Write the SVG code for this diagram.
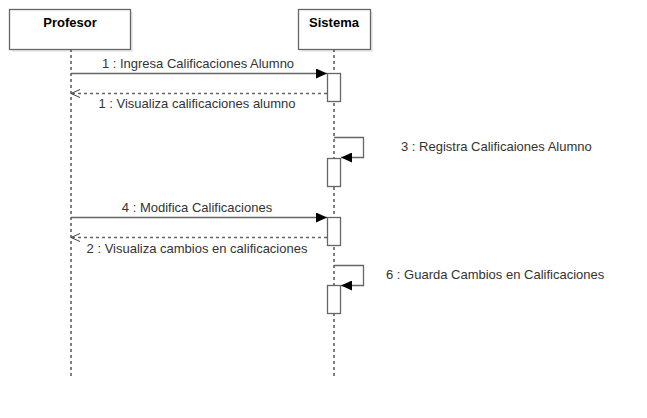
<svg xmlns="http://www.w3.org/2000/svg" width="647" height="418" viewBox="0 0 647 418">
<defs>
<marker id="filled" markerWidth="12" markerHeight="10" refX="11" refY="5" orient="auto" markerUnits="userSpaceOnUse">
<path d="M0,0 L11,5 L0,10 Z" fill="#000"/>
</marker>
<marker id="open" markerWidth="12" markerHeight="10" refX="10" refY="5" orient="auto" markerUnits="userSpaceOnUse">
<path d="M1,1 L10,5 L1,9" fill="none" stroke="#444" stroke-width="1"/>
</marker>
</defs>
<style>
.shadow{fill:#ececec;}
.head{fill:#fff;stroke:#666;stroke-width:1.3;}
.title{font-family:"Liberation Sans",Arial,sans-serif;font-size:13px;font-weight:bold;fill:#000;text-anchor:middle;}
.life{stroke:#000;stroke-width:1;stroke-dasharray:3,3;fill:none;}
.act{fill:#fff;stroke:#666;stroke-width:1.3;}
.msg{stroke:#666;stroke-width:1.3;fill:none;}
.ret{stroke:#666;stroke-width:1.3;stroke-dasharray:3,3;fill:none;}
.lbl{font-family:"Liberation Sans",Arial,sans-serif;font-size:13px;fill:#333;}
</style>
<rect width="647" height="418" fill="#fff"/>
<g id="profesor">
<rect class="shadow" x="12" y="12" width="121" height="40"/>
<line class="life" x1="71" y1="49" x2="71" y2="378"/>
<rect class="head" x="9.5" y="9.5" width="121" height="40"/>
<text class="title" x="70" y="27">Profesor</text>
</g>
<g id="sistema">
<rect class="shadow" x="301" y="12" width="72" height="40"/>
<line class="life" x1="334" y1="49" x2="334" y2="378"/>
<rect class="head" x="298.5" y="9.5" width="72" height="40"/>
<text class="title" x="334" y="27">Sistema</text>
</g>
<g id="connectors">
<line class="msg" x1="71" y1="73.5" x2="327" y2="73.5" marker-end="url(#filled)"/>
<text class="lbl" x="198" y="68" text-anchor="middle">1 : Ingresa Calificaciones Alumno</text>
<line class="ret" x1="327" y1="93.5" x2="71" y2="93.5" marker-end="url(#open)"/>
<text class="lbl" x="197" y="108" text-anchor="middle">1 : Visualiza calificaciones alumno</text>
<polyline class="msg" points="334,137.5 363.5,137.5 363.5,157.5 341,157.5" marker-end="url(#filled)"/>
<text class="lbl" x="401" y="151">3 : Registra Calificaiones Alumno</text>
<line class="msg" x1="71" y1="217.5" x2="327" y2="217.5" marker-end="url(#filled)"/>
<text class="lbl" x="197" y="212" text-anchor="middle">4 : Modifica Calificaciones</text>
<line class="ret" x1="327" y1="237.5" x2="71" y2="237.5" marker-end="url(#open)"/>
<text class="lbl" x="197" y="253" text-anchor="middle">2 : Visualiza cambios en calificaciones</text>
<polyline class="msg" points="334,265.5 363.5,265.5 363.5,285.5 341,285.5" marker-end="url(#filled)"/>
<text class="lbl" x="386" y="279">6 : Guarda Cambios en Calificaciones</text>
</g>
<g id="activations">
<rect class="act" x="327.5" y="73.5" width="13" height="28"/>
<rect class="act" x="327.5" y="158.5" width="13" height="28"/>
<rect class="act" x="327.5" y="217.5" width="13" height="28"/>
<rect class="act" x="327.5" y="285.5" width="13" height="28"/>
</g>
</svg>
